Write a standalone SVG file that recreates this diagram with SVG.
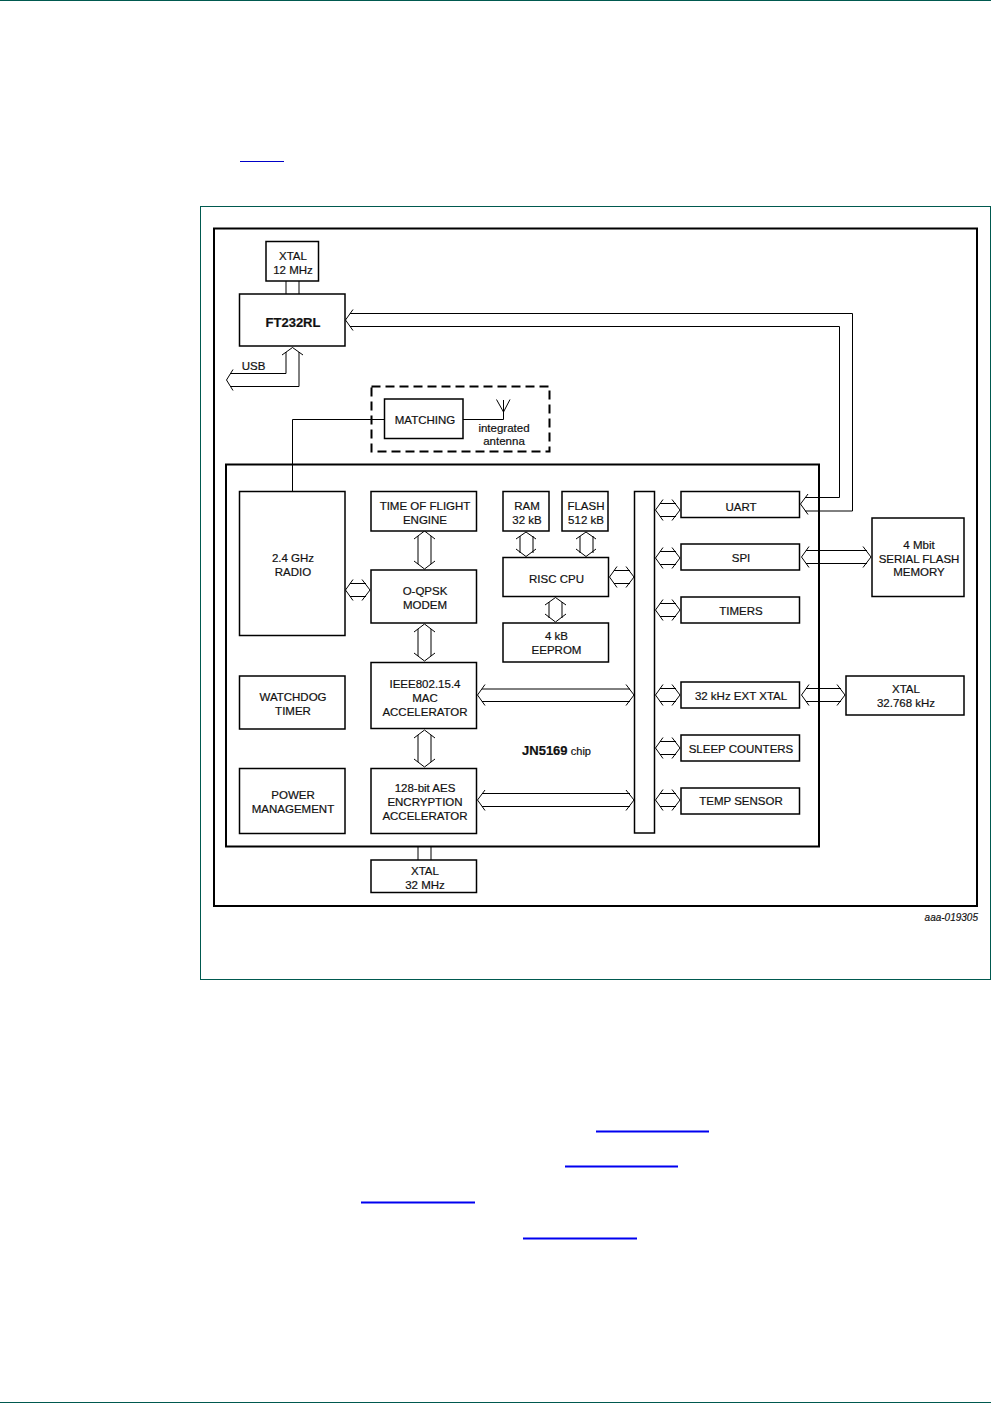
<svg xmlns="http://www.w3.org/2000/svg" width="991" height="1403" viewBox="0 0 991 1403">
<style>
.b{fill:#fff;stroke:#000;stroke-width:1.5}
.o{fill:none;stroke:#000;stroke-width:2}
.c{fill:none;stroke:#000;stroke-width:1}
.t{font-family:"Liberation Sans",Arial,sans-serif;font-size:11.500px;fill:#111;stroke:#111;stroke-width:.2;text-anchor:middle}
.g{fill:none;stroke:#00594f;stroke-width:1}
.u{stroke:#0000f0;stroke-width:2}
</style>
<rect width="991" height="1403" fill="#fff"/>
<path class="g" d="M0 0.5H991M0 1402.5H991"/>
<rect class="g" x="200.5" y="206.5" width="790" height="773"/>
<path class="u" d="M596 1131.5H709M565 1166.5H678M361 1202.5H475M523 1238.5H637"/>
<path stroke="#0000c8" stroke-width="1" d="M240 161.5H284"/>
<rect class="o" x="214" y="228.500" width="763" height="677.500"/>
<rect class="o" x="226" y="464.500" width="593" height="382"/>
<path id="matching-boundary" fill="none" stroke="#000" stroke-width="2" stroke-dasharray="9 5" d="M371.500 386.500H549.500V451.500H371.500Z"/>
<g id="connectors">
<path class="c" d="M286 281V294M299 281V294M418 846V860M431 846V860"/>
<path class="c" d="M292.500 491V419.500H384M463 419.500H503.500V400M496.500 399.500L503.500 412L510 399.500"/>
<path class="c" d="M353 309.500L345.500 320L353 330.500M350 313.500H852.500V511H805M350 326.500H839.500V497.500H805M808 494L800.500 504L808 514.500"/>
<path class="c" d="M233 369.500L226.500 380L233 390.500M230 373.500H286V352M230 386.500H299V352M282 355L292.500 347.500L303 355"/>
<path class="c" d="M414 539L424.500 531L435 539M414 561L424.500 569L435 561M418 536V564M431 536V564"/>
<path class="c" d="M414 632L424.500 624L435 632M414 653L424.500 661L435 653M418 629V656M431 629V656"/>
<path class="c" d="M414 738L424.500 730L435 738M414 759L424.500 767L435 759M418 735V762M431 735V762"/>
<path class="c" d="M516 539L526 532L536 539M516 549L526 556.500L536 549M520 536V553M533 536V553"/>
<path class="c" d="M576 539L586 532L596 539M576 549L586 556.500L596 549M580 536V553M593 536V553"/>
<path class="c" d="M545 605L555.500 597.500L566 605M545 614L555.500 622L566 614M549 602V618M562 602V618"/>
<path class="c" d="M353 579.500L345.500 590L353 600.500M362 579.500L370 590L362 600.500M350 583.500H366M350 596.500H366"/>
<path class="c" d="M617 566.500L609.500 577L617 587.500M626 566.500L634 577L626 587.500M614 570.500H630M614 583.500H630"/>
<path class="c" d="M485 684.500L477.500 695L485 705.500M626 684.500L634 695L626 705.500M482 689H630M482 701.500H630"/>
<path class="c" d="M485 790L477.500 800L485 810.500M626 790L634 800L626 810.500M482 793.500H630M482 806.500H630"/>
<path class="c" d="M663 499.500L655.500 510L663 520.500M672 499.500L680 510L672 520.500M660 503.500H676M660 516.500H676"/>
<path class="c" d="M663 547.500L655.500 558L663 568.500M672 547.500L680 558L672 568.500M660 551.500H676M660 564.500H676"/>
<path class="c" d="M663 599.500L655.500 610L663 620.500M672 599.500L680 610L672 620.500M660 603.500H676M660 616.500H676"/>
<path class="c" d="M663 684.500L655.500 695L663 705.500M672 684.500L680 695L672 705.500M660 688.500H676M660 701.500H676"/>
<path class="c" d="M663 737.500L655.500 748L663 758.500M672 737.500L680 748L672 758.500M660 741.500H676M660 754.500H676"/>
<path class="c" d="M663 789.500L655.500 800L663 810.500M672 789.500L680 800L672 810.500M660 793.500H676M660 806.500H676"/>
<path class="c" d="M809 546.500L801.500 557L809 567.500M863 546.500L871 557L863 567.500M806 550.500H867M806 563.500H867"/>
<path class="c" d="M809 684.500L801.500 695L809 705.500M837 684.500L845 695L837 705.500M806 688.500H841M806 701.500H841"/>
</g>
<g id="xtal12"><rect class="b" x="266" y="241.500" width="52.500" height="39.500"/><text class="t" x="293" y="260">XTAL</text><text class="t" x="293" y="274">12 MHz</text></g>
<g id="ft232rl"><rect class="b" x="239.500" y="294" width="105.500" height="52"/><text class="t" x="293" y="327" font-weight="bold" style="font-size:13px">FT232RL</text></g>
<text class="t" x="253.500" y="370">USB</text>
<g id="matching"><rect class="b" x="384.500" y="399" width="78.500" height="39.500"/><text class="t" x="425" y="424">MATCHING</text></g>
<text class="t" x="504" y="432">integrated</text><text class="t" x="504" y="445">antenna</text>
<g id="radio"><rect class="b" x="239.500" y="491.500" width="105.500" height="144"/><text class="t" x="293" y="562">2.4 GHz</text><text class="t" x="293" y="576">RADIO</text></g>
<g id="tof"><rect class="b" x="371" y="491.500" width="105.500" height="39.500"/><text class="t" x="425" y="510">TIME OF FLIGHT</text><text class="t" x="425" y="524">ENGINE</text></g>
<g id="modem"><rect class="b" x="371" y="570" width="105.500" height="53"/><text class="t" x="425" y="595">O-QPSK</text><text class="t" x="425" y="609">MODEM</text></g>
<g id="mac"><rect class="b" x="371" y="662.500" width="105.500" height="66"/><text class="t" x="425" y="688">IEEE802.15.4</text><text class="t" x="425" y="702">MAC</text><text class="t" x="425" y="716">ACCELERATOR</text></g>
<g id="aes"><rect class="b" x="371" y="768.500" width="105.500" height="65"/><text class="t" x="425" y="792">128-bit AES</text><text class="t" x="425" y="806">ENCRYPTION</text><text class="t" x="425" y="820">ACCELERATOR</text></g>
<g id="xtal32"><rect class="b" x="371" y="860" width="105.500" height="32.500"/><text class="t" x="425" y="875">XTAL</text><text class="t" x="425" y="889">32 MHz</text></g>
<g id="watchdog"><rect class="b" x="239.500" y="676" width="105.500" height="53"/><text class="t" x="293" y="701">WATCHDOG</text><text class="t" x="293" y="715">TIMER</text></g>
<g id="power"><rect class="b" x="239.500" y="768.500" width="105.500" height="65"/><text class="t" x="293" y="799">POWER</text><text class="t" x="293" y="813">MANAGEMENT</text></g>
<g id="ram"><rect class="b" x="503" y="491.500" width="46" height="39.500"/><text class="t" x="527" y="510">RAM</text><text class="t" x="527" y="524">32 kB</text></g>
<g id="flash"><rect class="b" x="562" y="491.500" width="46" height="39.500"/><text class="t" x="586" y="510">FLASH</text><text class="t" x="586" y="524">512 kB</text></g>
<g id="cpu"><rect class="b" x="503" y="557.500" width="105.500" height="39"/><text class="t" x="556.500" y="583">RISC CPU</text></g>
<g id="eeprom"><rect class="b" x="503" y="623" width="105.500" height="39"/><text class="t" x="556.500" y="640">4 kB</text><text class="t" x="556.500" y="654">EEPROM</text></g>
<text class="t" x="556.500" y="755"><tspan font-weight="bold" style="font-size:13px">JN5169</tspan> <tspan style="font-size:11px">chip</tspan></text>
<g id="bus"><rect class="b" x="634.500" y="491.500" width="20" height="341.500"/></g>
<g id="uart"><rect class="b" x="681" y="491.500" width="118.500" height="26"/><text class="t" x="741" y="511">UART</text></g>
<g id="spi"><rect class="b" x="681" y="544" width="118.500" height="26"/><text class="t" x="741" y="562">SPI</text></g>
<g id="timers"><rect class="b" x="681" y="597" width="118.500" height="26"/><text class="t" x="741" y="615">TIMERS</text></g>
<g id="extxtal"><rect class="b" x="681" y="682" width="118.500" height="26"/><text class="t" x="741" y="700">32 kHz EXT XTAL</text></g>
<g id="sleep"><rect class="b" x="681" y="735" width="118.500" height="26"/><text class="t" x="741" y="753">SLEEP COUNTERS</text></g>
<g id="temp"><rect class="b" x="681" y="788" width="118.500" height="26"/><text class="t" x="741" y="805">TEMP SENSOR</text></g>
<g id="serialflash"><rect class="b" x="872" y="518" width="92" height="78.500"/><text class="t" x="919" y="549">4 Mbit</text><text class="t" x="919" y="563">SERIAL FLASH</text><text class="t" x="919" y="576">MEMORY</text></g>
<g id="xtal32k"><rect class="b" x="846" y="676" width="118" height="39"/><text class="t" x="906" y="693">XTAL</text><text class="t" x="906" y="707">32.768 kHz</text></g>
<text x="978" y="921" text-anchor="end" font-family="Liberation Sans, Arial, sans-serif" font-size="10" font-style="italic" fill="#111" stroke="#111" stroke-width=".15">aaa-019305</text>
</svg>
